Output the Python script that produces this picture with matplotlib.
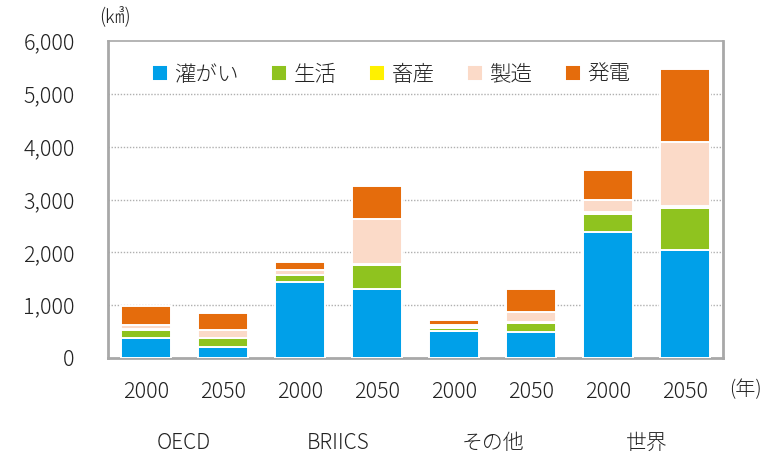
import matplotlib
matplotlib.use("Agg")
import matplotlib.pyplot as plt
import matplotlib.transforms as mtransforms
import numpy as np

plt.rcParams['font.family'] = ['Noto Sans CJK JP', 'DejaVu Sans']
plt.rcParams['font.weight'] = 'light'

years = ["2000", "2050", "2000", "2050", "2000", "2050", "2000", "2050"]
groups = ["OECD", "BRIICS", "その他", "世界"]
series_names = ["灌がい", "生活", "畜産", "製造", "発電"]
irrigation = [380, 210, 1445, 1300, 510, 490, 2390, 2050]
domestic = [150, 160, 120, 460, 65, 170, 330, 780]
livestock = [15, 10, 15, 20, 10, 25, 40, 50]
manufacturing = [85, 150, 80, 850, 40, 195, 240, 1200]
electricity = [345, 330, 150, 630, 100, 430, 560, 1390]
colors = ['#00a0e9', '#8fc31f', '#fff100', '#fbdac8', '#e56c0c']
yticks = [0, 1000, 2000, 3000, 4000, 5000, 6000]

fig = plt.figure(figsize=(7.77, 4.59), dpi=100)
ax = fig.add_axes([108/777, 1-358/459, (723-108)/777, (358-41)/459])

x = np.arange(len(years))
bottom = np.zeros(len(years))
handles = []
for name, vals, c in zip(series_names, [irrigation, domestic, livestock, manufacturing, electricity], colors):
    b = ax.bar(x, vals, width=0.65, bottom=bottom, color=c, edgecolor='white',
               linewidth=1.4, label=name, zorder=3)
    handles.append(b)
    bottom += np.array(vals)

ax.set_ylim(0, 6000)
ax.set_xlim(-0.49, 7.49)
ax.set_yticks(yticks)
ax.set_yticklabels([f"{v:,}" for v in yticks], fontsize=15.5, color='#222222')
ax.tick_params(axis='y', length=0, pad=24)
ax.set_xticks([])
for v in yticks[1:-1]:
    ax.axhline(v, color='#b0b0b0', linestyle=(0, (1, 1.2)), linewidth=1, zorder=1)
for s in ax.spines.values():
    s.set_color('#a8a8a8')
    s.set_linewidth(2)
ax.spines['top'].set_linewidth(1.2)

trans = mtransforms.blended_transform_factory(ax.transData, fig.transFigure)
for i, yr in enumerate(years):
    ax.text(i, 1-392/459, yr, transform=trans, ha='center', va='center', fontsize=15.5, color='#222222')
for j, g in enumerate(groups):
    ax.text(2*j+0.5, 1-443/459, g, transform=trans, ha='center', va='center', fontsize=15, color='#222222')

fig.text(745/777, 1-390/459, "(年)", ha='center', va='center', fontsize=14.5, color='#222222')
fig.text(115/777, 1-18/459, "(㎦)", ha='center', va='center', fontsize=14, color='#222222')

leg = ax.legend(handles=handles, loc='upper center', bbox_to_anchor=(0.46, 0.99), ncol=5,
                frameon=False, fontsize=15.5, handlelength=0.75, handleheight=0.75,
                handletextpad=0.3, columnspacing=1.5)
for t in leg.get_texts():
    t.set_color('#222222')

fig.savefig("out.png", dpi=100)
